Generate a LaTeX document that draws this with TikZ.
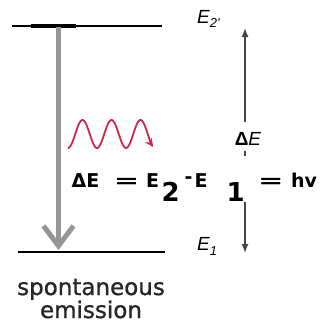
\documentclass[tikz,border=0pt]{standalone}
\usepackage{fontspec}
\usepackage{graphicx}
\setmainfont{DejaVu Sans}
\newfontfamily\labelfont{Liberation Sans}
\newfontfamily\capfont[FakeBold=1]{DejaVu Sans}
\usetikzlibrary{arrows.meta}
\definecolor{arrowgray}{RGB}{150,150,150}
\definecolor{wavered}{RGB}{210,40,70}
\definecolor{gapgray}{RGB}{70,70,70}
\newcommand{\wideeq}{\scalebox{1.6}[1]{=}}
\newcommand{\bigsub}[1]{\raisebox{-14pt}{\fontsize{26}{26}\selectfont #1}}
\newcommand{\putat}[2]{\makebox[0pt][l]{\hspace{#1}#2}}
\begin{document}
\begin{tikzpicture}[x=1pt,y=-1pt,
  level/.style={line width=1.6pt, black},
  levelmark/.style={line width=4pt, black},
  emit/.style={draw=arrowgray, line width=5pt, -{Straight Barb[length=20pt,width=30pt]}},
  photon/.style={draw=wavered, line width=1.8pt, line join=round, -{Stealth[length=8pt,width=8pt]}},
  gaparrow/.style={draw=gapgray, line width=1.3pt},
  gaptip/.style={-{Latex[length=9pt,width=7pt]}},
  elabel/.style={font=\labelfont\itshape\fontsize{19}{19}\selectfont, inner sep=0pt, anchor=base west},
  smalllabel/.style={font=\labelfont\itshape\fontsize{19}{19}\selectfont, inner sep=0pt},
  formula/.style={font=\bfseries\fontsize{19}{19}\selectfont, inner sep=0pt, anchor=base west},
  caption/.style={font=\capfont\fontsize{23}{23}\selectfont, text=black!85, align=center, inner sep=0pt, anchor=base}
]
\useasboundingbox (0,0) rectangle (326,322);

% energy levels
\coordinate (topL) at (12,26);
\coordinate (topR) at (162,26);
\coordinate (botL) at (18,252);
\coordinate (botR) at (165,252);
\coordinate (markL) at (31,26);
\coordinate (markR) at (76,26);
\draw[level] (topL) -- (topR);
\draw[levelmark] (markL) -- (markR);
\draw[level] (botL) -- (botR);

% spontaneous emission arrow
\coordinate (emitStart) at (58.5,27);
\coordinate (emitEnd) at (58.5,250);
\draw[emit] (emitStart) -- (emitEnd);

% photon
\draw[photon] plot[domain=68:153, samples=120, smooth] (\x, {134+14*cos(12.4138*(\x-68))});

% level labels
\node[elabel] (E2) at (197,23) {E\raisebox{-4pt}{\fontsize{13}{13}\selectfont 2'}};
\node[elabel] (E1) at (197,250) {E\raisebox{-5pt}{\fontsize{13}{13}\selectfont 1}};

% energy gap arrow
\coordinate (gapTop) at (245,28);
\coordinate (gapUpper) at (245,122);
\coordinate (dotTop) at (245,151);
\coordinate (dotBot) at (245,156);
\coordinate (gapLower) at (245,202);
\coordinate (gapBot) at (245,253);
\draw[gaparrow, gaptip] (gapUpper) -- (gapTop);
\draw[gaparrow] (dotTop) -- (dotBot);
\draw[gaparrow, gaptip] (gapLower) -- (gapBot);
\node[smalllabel] (dE) at (248,139) {\textup{\bfseries Δ}E};

% formula
\node[formula] (eq) at (71,187) {\putat{0pt}{ΔE}\putat{42.2pt}{\wideeq}\putat{74.3pt}{E}\putat{90pt}{\bigsub{2}}\putat{113pt}{\raisebox{4pt}{-}}\putat{123pt}{E}\putat{155pt}{\bigsub{1}}\putat{186.3pt}{\wideeq}\putat{219.3pt}{hv}};

% caption
\node[caption] (cap) at (91,318) {spontaneous\\emission};
\end{tikzpicture}
\end{document}
